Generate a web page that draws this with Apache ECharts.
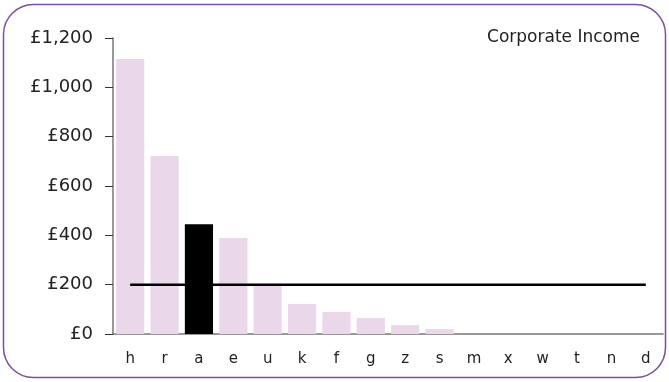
<!DOCTYPE html>
<html><head><meta charset="utf-8">
<script src="https://cdn.jsdelivr.net/npm/echarts@6/dist/echarts.min.js"></script>
<style>html,body{margin:0;padding:0;background:#fff}#c{width:669px;height:382px}</style>
</head><body><div id="c"></div>
<script>
var categories = ['h','r','a','e','u','k','f','g','z','s','m','x','w','t','n','d'];
var values = [1115, 722, 445, 389, 195, 122, 89, 65, 36, 20, 0, 0, 0, 0, 0, 0];
var highlight = 'a';
var refValue = 200;
var yTicks = [0, 200, 400, 600, 800, 1000, 1200];
var titleText = 'Corporate Income';

var chart = echarts.init(document.getElementById('c'));
var barData = values.map(function (v, i) {
  return { value: v, itemStyle: { color: categories[i] === highlight ? '#000000' : '#ead8ea' } };
});
var lineData = categories.map(function () { return refValue; });
chart.setOption({
  animation: false,
  title: { text: titleText, right: 24, top: 24, textStyle: { fontFamily: 'DejaVu Sans', fontSize: 17, fontWeight: 'normal', color: '#222' } },
  graphic: [{ type: 'rect', shape: { x: 3.5, y: 4.5, width: 662, height: 373, r: 30 }, style: { fill: 'none', stroke: '#7d4f9e', lineWidth: 1.5 }, z: -1 }],
  grid: { left: 113, right: 6, top: 38, bottom: 48 },
  xAxis: {
    type: 'category', data: categories,
    axisLine: { lineStyle: { color: '#777', width: 1.5 } },
    axisTick: { show: false },
    axisLabel: { fontFamily: 'DejaVu Sans', fontSize: 15, color: '#222', margin: 18 }
  },
  yAxis: {
    type: 'value', min: yTicks[0], max: yTicks[yTicks.length - 1], interval: yTicks[1] - yTicks[0],
    splitLine: { show: false },
    axisLine: { show: true, lineStyle: { color: '#777', width: 1.5 } },
    axisTick: { show: true, length: 8, lineStyle: { color: '#333' } },
    axisLabel: { fontFamily: 'DejaVu Sans', fontSize: 18, color: '#222', margin: 20,
      formatter: function (v) { return '£' + v.toLocaleString('en-GB'); } }
  },
  series: [
    { type: 'bar', data: barData, barWidth: '82%' },
    { type: 'line', data: lineData, symbol: 'none', lineStyle: { color: '#000', width: 2.5 }, z: 3 }
  ]
});
</script></body></html>
